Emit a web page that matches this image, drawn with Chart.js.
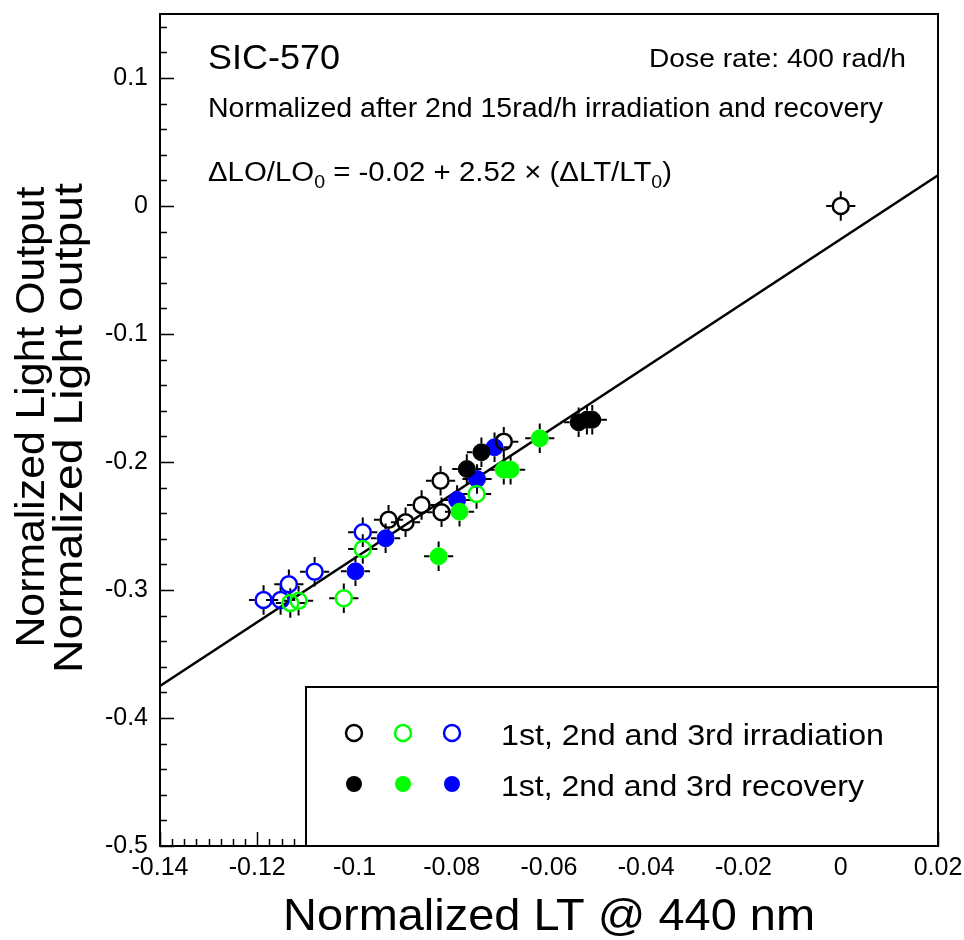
<!DOCTYPE html>
<html>
<head>
<meta charset="utf-8">
<script src="https://cdn.jsdelivr.net/npm/chart.js@4/dist/chart.umd.min.js"></script>
<style>
  html, body { margin: 0; padding: 0; background: #fff; }
  #wrap { width: 964px; height: 940px; }
</style>
</head>
<body>
<div id="wrap"><canvas id="c" width="964" height="940"></canvas></div>
<script>
// values
const irr1X = [-0.0930, -0.0895, -0.0862, -0.0823, -0.0821, -0.0693, 0.0];
const irr1Y = [-0.2451, -0.2471, -0.2336, -0.2146, -0.2393, -0.1841, 0.0];
const irr2X = [-0.1132, -0.1115, -0.1022, -0.0983, -0.0749];
const irr2Y = [-0.3102, -0.3084, -0.3065, -0.2680, -0.2250];
const irr3X = [-0.1187, -0.1152, -0.1135, -0.1082, -0.0983];
const irr3Y = [-0.3078, -0.3078, -0.2955, -0.2857, -0.2549];
const rec1X = [-0.0769, -0.0739, -0.0539, -0.0522, -0.0511];
const rec1Y = [-0.2055, -0.1924, -0.1690, -0.1670, -0.1670];
const rec2X = [-0.0827, -0.0784, -0.0693, -0.0679, -0.0619];
const rec2Y = [-0.2737, -0.2388, -0.2060, -0.2060, -0.1815];
const rec3X = [-0.0998, -0.0936, -0.0789, -0.0748, -0.0712];
const rec3Y = [-0.2854, -0.2596, -0.2297, -0.2133, -0.1885];

// fitted line end points
const fitX = [-0.14, 0.02];
const fitY = [-0.375, 0.024];

// error bar half widths
const xErr = 0.003;
const yErr = 0.0115;

const xTicks = [-0.14, -0.12, -0.1, -0.08, -0.06, -0.04, -0.02, 0, 0.02];
const xTickLabels = ['-0.14', '-0.12', '-0.1', '-0.08', '-0.06', '-0.04', '-0.02', '0', '0.02'];
const yTicks = [-0.5, -0.4, -0.3, -0.2, -0.1, 0, 0.1];
const yTickLabels = ['-0.5', '-0.4', '-0.3', '-0.2', '-0.1', '0', '0.1'];

const BLACK = '#000000';
const GREEN = '#00ff00';
const BLUE = '#0000ff';

function pts(xs, ys) {
    return xs.map((x, i) => ({ x: x, y: ys[i] }));
}

function markerSet(label, xs, ys, color, filled) {
    return {
        type: 'scatter',
        label: label,
        data: pts(xs, ys),
        pointStyle: 'circle',
        pointRadius: filled ? 8.5 : 8,
        pointBorderWidth: filled ? 1 : 2.5,
        pointBorderColor: color,
        pointBackgroundColor: filled ? color : 'rgba(0,0,0,0)',
        showLine: false,
        order: 1
    };
}

const datasets = [
    markerSet('irr1', irr1X, irr1Y, BLACK, false),
    markerSet('irr2', irr2X, irr2Y, GREEN, false),
    markerSet('irr3', irr3X, irr3Y, BLUE, false),
    markerSet('rec1', rec1X, rec1Y, BLACK, true),
    markerSet('rec2', rec2X, rec2Y, GREEN, true),
    markerSet('rec3', rec3X, rec3Y, BLUE, true),
    {
        type: 'line',
        label: 'fit',
        data: pts(fitX, fitY),
        borderColor: BLACK,
        borderWidth: 2.5,
        pointRadius: 0,
        fill: false,
        order: 10
    }
];

const FONT = '"Liberation Sans", Arial, sans-serif';
const tickFont = { family: FONT, size: 25 };

// draws text squeezed/stretched horizontally to a given width
function fitText(ctx, text, x, y, size, width, align) {
    ctx.font = size + 'px ' + FONT;
    const w = ctx.measureText(text).width;
    const s = width / w;
    let left = x;
    if (align === 'center') left = x - width / 2;
    if (align === 'right') left = x - width;
    ctx.save();
    ctx.translate(left, y);
    ctx.scale(s, 1);
    ctx.textAlign = 'left';
    ctx.fillText(text, 0, 0);
    ctx.restore();
    return width;
}

// error bars: short segments outside the marker
const errorBars = {
    id: 'errorBars',
    beforeDatasetsDraw(chart) {
        const ctx = chart.ctx;
        const xs = chart.scales.x, ys = chart.scales.y;
        ctx.save();
        ctx.strokeStyle = BLACK;
        ctx.lineWidth = 2;
        chart.data.datasets.forEach(ds => {
            if (ds.type !== 'scatter') return;
            ds.data.forEach(p => {
                const cx = xs.getPixelForValue(p.x);
                const cy = ys.getPixelForValue(p.y);
                const x0 = xs.getPixelForValue(p.x - xErr);
                const x1 = xs.getPixelForValue(p.x + xErr);
                const y0 = ys.getPixelForValue(p.y + yErr);
                const y1 = ys.getPixelForValue(p.y - yErr);
                const r = 9;
                ctx.beginPath();
                ctx.moveTo(x0, cy); ctx.lineTo(cx - r, cy);
                ctx.moveTo(cx + r, cy); ctx.lineTo(x1, cy);
                ctx.moveTo(cx, y0); ctx.lineTo(cx, cy - r);
                ctx.moveTo(cx, cy + r); ctx.lineTo(cx, y1);
                ctx.stroke();
            });
        });
        ctx.restore();
    }
};

// frame, inward ticks, texts and the legend box
const decorations = {
    id: 'decorations',
    afterDraw(chart) {
        const ctx = chart.ctx;
        const a = chart.chartArea;
        const xs = chart.scales.x, ys = chart.scales.y;
        ctx.save();

        // frame
        ctx.strokeStyle = BLACK;
        ctx.lineWidth = 2;
        ctx.strokeRect(a.left, a.top, a.right - a.left, a.bottom - a.top);

        // x ticks (major every 0.02, minor every 0.0025)
        ctx.lineWidth = 1.5;
        ctx.beginPath();
        for (let i = 0; i <= 64; i++) {
            const v = -0.14 + i * 0.0025;
            const px = Math.round(xs.getPixelForValue(v)) + 0.5;
            const len = (i % 8 === 0) ? 14 : 7;
            ctx.moveTo(px, a.bottom);
            ctx.lineTo(px, a.bottom - len);
        }
        // y ticks (major every 0.1, minor every 0.02)
        for (let i = 0; i <= 32; i++) {
            const v = -0.5 + i * 0.02;
            const py = Math.round(ys.getPixelForValue(v)) + 0.5;
            const len = (i % 5 === 0) ? 14 : 7;
            ctx.moveTo(a.left, py);
            ctx.lineTo(a.left + len, py);
        }
        ctx.stroke();

        // axis titles
        ctx.fillStyle = BLACK;
        ctx.textBaseline = 'alphabetic';
        fitText(ctx, 'Normalized LT @ 440 nm', 549, 930, 45, 532, 'center');

        ctx.save();
        ctx.translate(44, 417);
        ctx.rotate(-Math.PI / 2);
        fitText(ctx, 'Normalized Light Output', 0, 0, 41, 461, 'center');
        ctx.restore();
        ctx.save();
        ctx.translate(82, 428);
        ctx.rotate(-Math.PI / 2);
        fitText(ctx, 'Normalized Light output', 0, 0, 40, 490, 'center');
        ctx.restore();

        // annotations
        fitText(ctx, 'SIC-570', 208, 69, 35, 132, 'left');
        fitText(ctx, 'Dose rate: 400 rad/h', 906, 67, 26, 257, 'right');
        fitText(ctx, 'Normalized after 2nd 15rad/h irradiation and recovery', 208, 117, 27, 675, 'left');

        // fit equation with subscripts
        const base = 181;
        const parts = [
            ['\u0394LO/LO', false], ['0', true],
            [' = -0.02 + 2.52 \u00d7 (\u0394LT/LT', false], ['0', true], [')', false]
        ];
        let total = 0;
        parts.forEach(([t, sub]) => {
            ctx.font = (sub ? '18px ' : '27px ') + FONT;
            total += ctx.measureText(t).width;
        });
        const sx = 464 / total;
        ctx.save();
        ctx.translate(208, 0);
        ctx.scale(sx, 1);
        let x = 0;
        ctx.textAlign = 'left';
        parts.forEach(([t, sub]) => {
            ctx.font = (sub ? '18px ' : '27px ') + FONT;
            ctx.fillText(t, x, sub ? base + 7 : base);
            x += ctx.measureText(t).width;
        });
        ctx.restore();

        // legend box
        const lx = 306, ly = 687;
        ctx.fillStyle = '#ffffff';
        ctx.fillRect(lx, ly, a.right - lx, a.bottom - ly);
        ctx.strokeStyle = BLACK;
        ctx.lineWidth = 2;
        ctx.strokeRect(lx, ly, a.right - lx, a.bottom - ly);

        const legendX = [354, 403, 452];
        const colors = [BLACK, GREEN, BLUE];
        const rows = [
            { y: 733, filled: false, text: '1st, 2nd and 3rd irradiation', w: 383 },
            { y: 784, filled: true, text: '1st, 2nd and 3rd recovery', w: 363 }
        ];
        rows.forEach(r => {
            legendX.forEach((mx, i) => {
                ctx.beginPath();
                ctx.arc(mx, r.y, 8, 0, Math.PI * 2);
                if (r.filled) {
                    ctx.fillStyle = colors[i];
                    ctx.fill();
                } else {
                    ctx.strokeStyle = colors[i];
                    ctx.lineWidth = 2.5;
                    ctx.stroke();
                }
            });
            ctx.fillStyle = BLACK;
            fitText(ctx, r.text, 501, r.y + 12, 30, r.w, 'left');
        });

        ctx.restore();
    }
};

const chart = new Chart(document.getElementById('c'), {
    type: 'scatter',
    data: { datasets: datasets },
    options: {
        responsive: false,
        animation: false,
        maintainAspectRatio: false,
        layout: { padding: { top: 14, right: 26, left: 0, bottom: 0 } },
        plugins: {
            legend: { display: false },
            tooltip: { enabled: false },
            title: { display: false }
        },
        scales: {
            x: {
                type: 'linear',
                min: -0.14,
                max: 0.02,
                afterBuildTicks: axis => { axis.ticks = xTicks.map(v => ({ value: v })); },
                afterFit: axis => {
                    axis.height = 94;
                    axis.paddingLeft = 0;
                    axis.paddingRight = 0;
                },
                grid: { display: false, drawTicks: false },
                border: { display: false },
                ticks: {
                    callback: (v, i) => xTickLabels[i],
                    font: tickFont,
                    color: BLACK,
                    padding: 7,
                    maxRotation: 0,
                    autoSkip: false
                }
            },
            y: {
                type: 'linear',
                min: -0.5,
                max: 0.15,
                afterBuildTicks: axis => { axis.ticks = yTicks.map(v => ({ value: v })); },
                afterFit: axis => {
                    axis.width = 160;
                    axis.paddingTop = 0;
                    axis.paddingBottom = 0;
                },
                grid: { display: false, drawTicks: false },
                border: { display: false },
                ticks: {
                    callback: (v, i) => yTickLabels[i],
                    font: tickFont,
                    color: BLACK,
                    padding: 12,
                    autoSkip: false
                }
            }
        }
    },
    plugins: [errorBars, decorations]
});
</script>
</body>
</html>
